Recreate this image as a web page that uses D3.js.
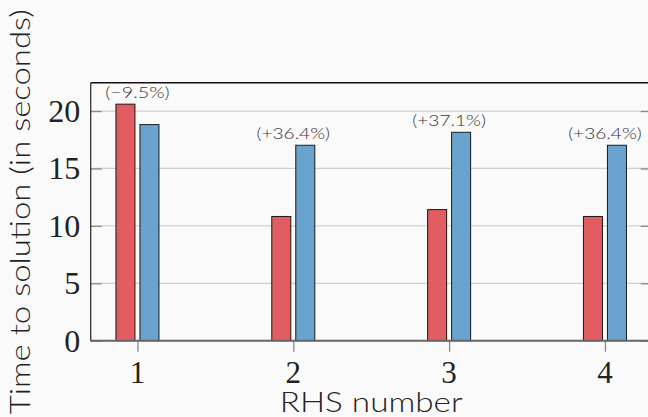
<!DOCTYPE html>
<html>
<head>
<meta charset="utf-8">
<script src="https://cdn.jsdelivr.net/npm/d3@7"></script>
<style>
  body { margin: 0; background: #fafafa; }
  svg { display: block; }
</style>
</head>
<body>
<svg class="chart"></svg>
<script>
// Data
const rhs = [1, 2, 3, 4];
const redTimes = [20.6, 10.82, 11.42, 10.82];
const blueTimes = [18.82, 17.02, 18.15, 17.02];
const pctLabels = ["(\u22129.5%)", "(+36.4%)", "(+37.1%)", "(+36.4%)"];
const yTicks = [0, 5, 10, 15, 20];

const W = 648, H = 417;
const svg = d3.select(".chart").attr("width", W).attr("height", H);

// Plot area (right spine sits just off the canvas)
const plotLeft = 90.7, plotRight = 651.7, plotTop = 82.7, plotBottom = 340.7;

const x = d3.scaleLinear().domain([0.7, 4.3]).range([plotLeft, plotRight]);
const y = d3.scaleLinear().domain([0, 22.47]).range([plotBottom, plotTop]);

const barW = 0.122, offset = 0.077;
const sans = "Lato, sans-serif";
const serif = "'Liberation Serif', serif";

// Grid lines
svg.append("g")
    .selectAll("line")
    .data(yTicks.filter(d => d > 0))
    .enter().append("line")
    .attr("x1", plotLeft).attr("x2", plotRight)
    .attr("y1", d => y(d)).attr("y2", d => y(d))
    .attr("stroke", "#cfcfcf")
    .attr("stroke-width", 1.3);

// Inward ticks on left and right
const yAxisL = svg.append("g")
    .attr("transform", "translate(" + plotLeft + ",0)")
    .call(d3.axisRight(y).tickValues(yTicks).tickSize(11).tickFormat(""));
const yAxisR = svg.append("g")
    .attr("transform", "translate(" + plotRight + ",0)")
    .call(d3.axisLeft(y).tickValues(yTicks).tickSize(11).tickFormat(""));
[yAxisL, yAxisR].forEach(g => {
    g.select(".domain").remove();
    g.selectAll(".tick line").attr("stroke", "#888").attr("stroke-width", 1.3);
});

// Y tick labels
svg.append("g")
    .selectAll("text")
    .data(yTicks)
    .enter().append("text")
    .attr("x", plotLeft - 10.5)
    .attr("y", d => y(d))
    .attr("dy", "0.34em")
    .attr("text-anchor", "end")
    .style("font-family", serif)
    .style("font-size", "32px")
    .style("fill", "#222")
    .text(d => d);

// Bottom axis ticks
const xAxis = svg.append("g")
    .attr("transform", "translate(0," + plotBottom + ")")
    .call(d3.axisBottom(x).tickValues(rhs).tickSize(11).tickFormat(""));
xAxis.select(".domain").remove();
xAxis.selectAll(".tick line").attr("stroke", "#888").attr("stroke-width", 1.3);

svg.append("g")
    .selectAll("text")
    .data(rhs)
    .enter().append("text")
    .attr("x", d => x(d))
    .attr("y", 383)
    .attr("text-anchor", "middle")
    .style("font-family", serif)
    .style("font-size", "31px")
    .style("fill", "#222")
    .text(d => d);

// Bars
const bars = svg.append("g");
bars.selectAll(".red")
    .data(rhs)
    .enter().append("rect")
    .attr("class", "red")
    .attr("x", d => x(d - offset - barW / 2))
    .attr("width", x(barW) - x(0))
    .attr("y", (d, i) => y(redTimes[i]))
    .attr("height", (d, i) => y(0) - y(redTimes[i]))
    .attr("fill", "#e15d62")
    .attr("stroke", "#1a1a1a")
    .attr("stroke-width", 1);
bars.selectAll(".blue")
    .data(rhs)
    .enter().append("rect")
    .attr("class", "blue")
    .attr("x", d => x(d + offset - barW / 2))
    .attr("width", x(barW) - x(0))
    .attr("y", (d, i) => y(blueTimes[i]))
    .attr("height", (d, i) => y(0) - y(blueTimes[i]))
    .attr("fill", "#6aa3cd")
    .attr("stroke", "#1a1a1a")
    .attr("stroke-width", 1);

// Percentage labels above the taller bar
svg.append("g")
    .selectAll("text")
    .data(rhs)
    .enter().append("text")
    .attr("x", d => x(d))
    .attr("y", (d, i) => y(Math.max(redTimes[i], blueTimes[i])) - 6.3)
    .attr("text-anchor", "middle")
    .attr("textLength", (d, i) => pctLabels[i].length * 9.2)
    .attr("lengthAdjust", "spacingAndGlyphs")
    .style("font-family", sans)
    .style("font-weight", 300)
    .style("font-size", "15px")
    .style("fill", "#333")
    .text((d, i) => pctLabels[i]);

// Spines
svg.append("line")
    .attr("x1", plotLeft).attr("x2", plotRight).attr("y1", plotBottom).attr("y2", plotBottom)
    .attr("stroke", "#666").attr("stroke-width", 2);
svg.append("line")
    .attr("x1", plotLeft).attr("x2", plotRight).attr("y1", plotTop).attr("y2", plotTop)
    .attr("stroke", "#111").attr("stroke-width", 1.5);
svg.append("line")
    .attr("x1", plotLeft).attr("x2", plotLeft).attr("y1", plotTop).attr("y2", plotBottom)
    .attr("stroke", "#333").attr("stroke-width", 1.3);

// Axis labels
svg.append("text")
    .attr("text-anchor", "middle")
    .attr("x", (plotLeft + plotRight) / 2)
    .attr("y", 412)
    .attr("textLength", 183)
    .attr("lengthAdjust", "spacingAndGlyphs")
    .style("font-family", sans)
    .style("font-weight", 300)
    .style("font-size", "27px")
    .style("fill", "#222")
    .text("RHS number");

svg.append("text")
    .attr("text-anchor", "middle")
    .attr("transform", "translate(30," + ((plotTop + plotBottom) / 2) + ") rotate(-90)")
    .attr("textLength", 405)
    .attr("lengthAdjust", "spacingAndGlyphs")
    .style("font-family", sans)
    .style("font-weight", 300)
    .style("font-size", "27px")
    .style("fill", "#222")
    .text("Time to solution (in seconds)");
</script>
</body>
</html>
